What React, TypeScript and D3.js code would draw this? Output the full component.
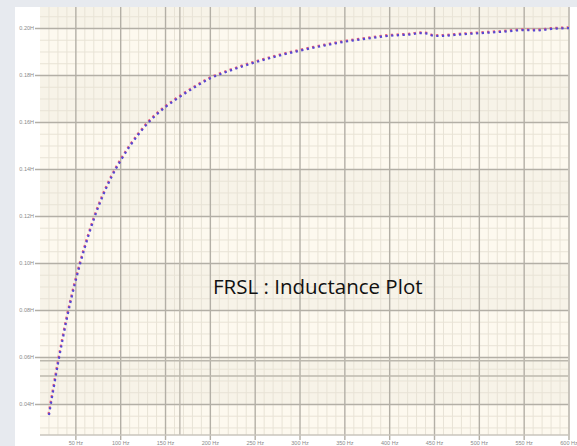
import * as d3 from "d3";
import { useEffect, useRef } from "react";

// frequency (Hz) and measured inductance (H)
const freqs = [20, 22, 25, 30, 35, 40, 45, 50, 55, 60, 65, 70, 80, 90, 100, 110, 120, 130, 140, 150, 160, 175, 200, 225, 250, 275, 300, 325, 350, 375, 400, 420, 435, 442, 450, 460, 480, 500, 525, 550, 565, 580, 600];
const inductance = [0.0355, 0.04, 0.0465, 0.0573, 0.0672, 0.0767, 0.0852, 0.093, 0.1002, 0.1068, 0.113, 0.1188, 0.1287, 0.137, 0.1438, 0.1498, 0.155, 0.1596, 0.1634, 0.1666, 0.1694, 0.1732, 0.1788, 0.1825, 0.1856, 0.1883, 0.1906, 0.1926, 0.1944, 0.1957, 0.1969, 0.1974, 0.198, 0.1978, 0.1968, 0.1969, 0.1975, 0.198, 0.1986, 0.1993, 0.1992, 0.1998, 0.2002];

const xTicks = [50, 100, 150, 200, 250, 300, 350, 400, 450, 500, 550, 600];
const yTicks = [0.04, 0.06, 0.08, 0.1, 0.12, 0.14, 0.16, 0.18, 0.2];
// cursor lines drawn over the grid
const cursorFreqs = [166];
const cursorLs = [0.0586, 0.0521];

const title = "FRSL : Inductance Plot";

export default function App() {
  const ref = useRef<SVGSVGElement>(null);
  const width = 577;
  const height = 446;
  const left = 40, top = 7, right = 569, bottom = 435;

  useEffect(() => {
    const svg = d3.select(ref.current);
    svg.selectAll("*").remove();

    const x = d3.scaleLinear().domain([10, 600]).range([left, right]);
    const y = d3.scaleLinear().domain([0.027, 0.20915]).range([bottom, top]);

    svg.append("rect").attr("width", width).attr("height", height).attr("fill", "#e7eaef");
    svg.append("rect").attr("x", 15).attr("y", 7).attr("width", width - 15).attr("height", height).attr("fill", "#ffffff");

    // plot background with alternating bands
    svg.append("rect")
      .attr("x", left).attr("y", top).attr("width", right - left).attr("height", bottom - top)
      .attr("fill", "#fdf9ef");
    const bandEdges = [0.027, 0.04, 0.06, 0.08, 0.1, 0.12, 0.14, 0.16, 0.18, 0.2, 0.20915];
    svg.append("g").selectAll("rect")
      .data(d3.pairs(bandEdges))
      .join("rect")
      .attr("x", left).attr("width", right - left)
      .attr("y", d => y(d[1])).attr("height", d => y(d[0]) - y(d[1]))
      .attr("fill", (d, i) => (bandEdges.length - 2 - i) % 2 === 0 ? "#f7f3e8" : "none");

    const g = svg.append("g");

    // minor grid
    g.append("g").selectAll("line")
      .data(d3.range(20, 600, 10).filter(f => f % 50 !== 0))
      .join("line")
      .attr("x1", d => x(d)).attr("x2", d => x(d))
      .attr("y1", top).attr("y2", bottom)
      .attr("stroke", "#e8e3d6").attr("stroke-width", 1);
    g.append("g").selectAll("line")
      .data(d3.range(0.03, 0.2092, 0.005).filter(v => Math.abs(v * 100 - Math.round(v * 50) * 2) > 0.01))
      .join("line")
      .attr("x1", left).attr("x2", right)
      .attr("y1", d => y(d)).attr("y2", d => y(d))
      .attr("stroke", "#e8e3d6").attr("stroke-width", 1);

    // major grid
    g.append("g").selectAll("line")
      .data(xTicks)
      .join("line")
      .attr("x1", d => x(d)).attr("x2", d => x(d))
      .attr("y1", top).attr("y2", bottom + 5)
      .attr("stroke", "#b3afa6").attr("stroke-width", 1.4);
    g.append("g").selectAll("line")
      .data(yTicks)
      .join("line")
      .attr("x1", left - 5).attr("x2", right)
      .attr("y1", d => y(d)).attr("y2", d => y(d))
      .attr("stroke", "#b3afa6").attr("stroke-width", 1.4);

    // cursors
    g.append("g").selectAll("line")
      .data(cursorFreqs)
      .join("line")
      .attr("x1", d => x(d)).attr("x2", d => x(d))
      .attr("y1", top).attr("y2", bottom)
      .attr("stroke", "#bcb8ae").attr("stroke-width", 1.4);
    g.append("g").selectAll("line")
      .data(cursorLs)
      .join("line")
      .attr("x1", left).attr("x2", right)
      .attr("y1", d => y(d)).attr("y2", d => y(d))
      .attr("stroke", "#bcb8ae").attr("stroke-width", 1.4);

    // frame
    svg.append("line").attr("x1", left).attr("x2", right).attr("y1", bottom).attr("y2", bottom)
      .attr("stroke", "#c9c5bc").attr("stroke-width", 1.5);
    svg.append("line").attr("x1", right).attr("x2", right).attr("y1", top).attr("y2", bottom)
      .attr("stroke", "#c9c5bc").attr("stroke-width", 1.5);

    // tick labels
    svg.append("g").selectAll("text")
      .data(yTicks)
      .join("text")
      .attr("x", left - 6).attr("y", d => y(d)).attr("dy", "0.35em")
      .attr("text-anchor", "end")
      .attr("font-family", "Liberation Sans, Arial, sans-serif")
      .attr("font-size", 5.5).attr("fill", "#8a8a8a")
      .text(d => d.toFixed(2) + "H");
    svg.append("g").selectAll("text")
      .data(xTicks)
      .join("text")
      .attr("x", d => x(d)).attr("y", 445)
      .attr("text-anchor", "middle")
      .attr("font-family", "Liberation Sans, Arial, sans-serif")
      .attr("font-size", 5.5).attr("fill", "#8a8a8a")
      .text(d => d + " Hz");

    const pts = freqs.map((f, i) => [f, inductance[i]] as [number, number]);
    const line = d3.line<[number, number]>()
      .x(d => x(d[0])).y(d => y(d[1]))
      .curve(d3.curveMonotoneX);

    svg.append("path")
      .datum(pts)
      .attr("d", line)
      .attr("fill", "none")
      .attr("stroke", "#e8607a")
      .attr("stroke-width", 2.3)
      .attr("stroke-dasharray", "2.3 3.4")
      .attr("transform", "translate(-0.4,-0.7)");
    svg.append("path")
      .datum(pts)
      .attr("d", line)
      .attr("fill", "none")
      .attr("stroke", "#5548d4")
      .attr("stroke-width", 2.2)
      .attr("stroke-dasharray", "2.2 3.5");

    svg.append("text")
      .attr("x", 213).attr("y", 294)
      .attr("font-family", "Open Sans, sans-serif")
      .attr("font-size", 20.5)
      .attr("fill", "#111")
      .text(title);
  }, []);

  return (
    <div style={{ position: "absolute", left: 0, top: 0 }}>
      <svg ref={ref} width={width} height={height} style={{ display: "block" }} />
    </div>
  );
}
